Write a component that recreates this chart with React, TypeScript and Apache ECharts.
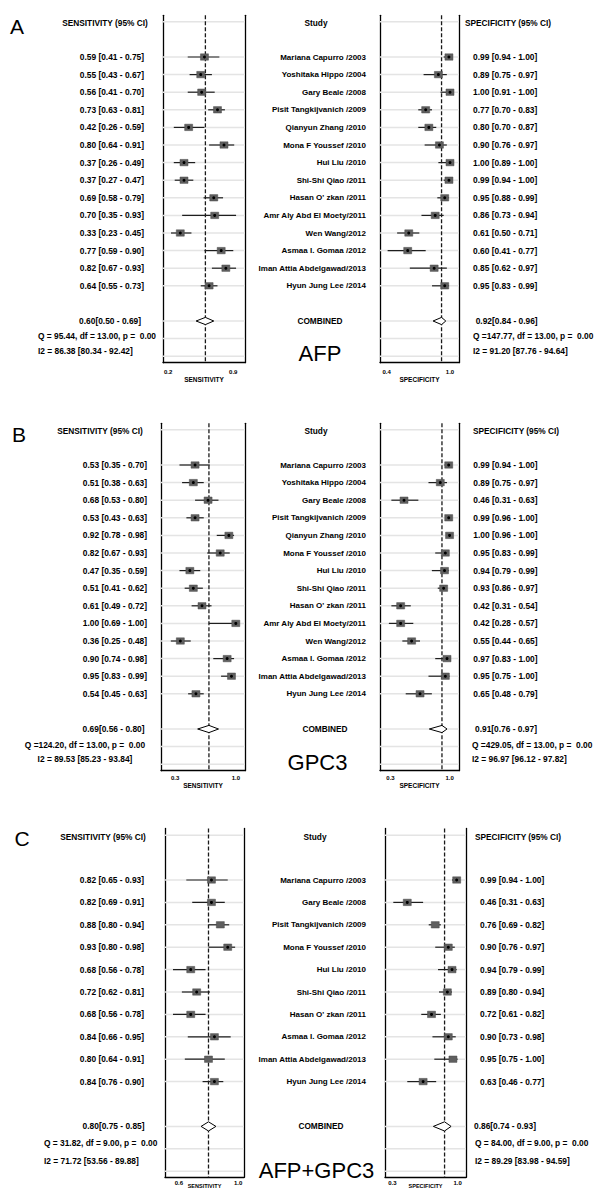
import React, { useEffect, useRef } from "react";
import * as echarts from "echarts";

// ---------------- DATA ----------------
const afpStudies = [
  "Mariana Capurro /2003", "Yoshitaka Hippo /2004", "Gary Beale /2008", "Pisit Tangkijvanich /2009",
  "Qianyun Zhang /2010", "Mona F Youssef /2010", "Hui Liu /2010", "Shi-Shi Qiao /2011",
  "Hasan O' zkan /2011", "Amr Aly Abd El Moety/2011", "Wen Wang/2012", "Asmaa I. Gomaa /2012",
  "Iman Attia Abdelgawad/2013", "Hyun Jung Lee /2014",
];
const afpSens = [0.59, 0.55, 0.56, 0.73, 0.42, 0.80, 0.37, 0.37, 0.69, 0.70, 0.33, 0.77, 0.82, 0.64];
const afpSensLow = [0.41, 0.43, 0.41, 0.63, 0.26, 0.64, 0.26, 0.27, 0.58, 0.35, 0.23, 0.59, 0.67, 0.55];
const afpSensHigh = [0.75, 0.67, 0.70, 0.81, 0.59, 0.91, 0.49, 0.47, 0.79, 0.93, 0.45, 0.90, 0.93, 0.73];
const afpSpec = [0.99, 0.89, 1.00, 0.77, 0.80, 0.90, 1.00, 0.99, 0.95, 0.86, 0.61, 0.60, 0.85, 0.95];
const afpSpecLow = [0.94, 0.75, 0.91, 0.70, 0.70, 0.76, 0.89, 0.94, 0.88, 0.73, 0.50, 0.41, 0.62, 0.83];
const afpSpecHigh = [1.00, 0.97, 1.00, 0.83, 0.87, 0.97, 1.00, 1.00, 0.99, 0.94, 0.71, 0.77, 0.97, 0.99];
const afpPooledSens = [0.60, 0.50, 0.69];
const afpPooledSpec = [0.92, 0.84, 0.96];
const afpSensStats = ["Q = 95.44, df = 13.00, p =  0.00", "I2 = 86.38 [80.34 - 92.42]"];
const afpSpecStats = ["Q =147.77, df = 13.00, p =  0.00", "I2 = 91.20 [87.76 - 94.64]"];
const afpSensTicks = [0.2, 0.9];
const afpSpecTicks = [0.4, 1.0];

const gpcStudies = afpStudies;
const gpcSens = [0.53, 0.51, 0.68, 0.53, 0.92, 0.82, 0.47, 0.51, 0.61, 1.00, 0.36, 0.90, 0.95, 0.54];
const gpcSensLow = [0.35, 0.38, 0.53, 0.43, 0.78, 0.67, 0.35, 0.41, 0.49, 0.69, 0.25, 0.74, 0.83, 0.45];
const gpcSensHigh = [0.70, 0.63, 0.80, 0.63, 0.98, 0.93, 0.59, 0.62, 0.72, 1.00, 0.48, 0.98, 0.99, 0.63];
const gpcSpec = [0.99, 0.89, 0.46, 0.99, 1.00, 0.95, 0.94, 0.93, 0.42, 0.42, 0.55, 0.97, 0.95, 0.65];
const gpcSpecLow = [0.94, 0.75, 0.31, 0.96, 0.96, 0.83, 0.79, 0.86, 0.31, 0.28, 0.44, 0.83, 0.75, 0.48];
const gpcSpecHigh = [1.00, 0.97, 0.63, 1.00, 1.00, 0.99, 0.99, 0.97, 0.54, 0.57, 0.65, 1.00, 1.00, 0.79];
const gpcPooledSens = [0.69, 0.56, 0.80];
const gpcPooledSpec = [0.91, 0.76, 0.97];
const gpcSensStats = ["Q =124.20, df = 13.00, p =  0.00", "I2 = 89.53 [85.23 - 93.84]"];
const gpcSpecStats = ["Q =429.05, df = 13.00, p =  0.00", "I2 = 96.97 [96.12 - 97.82]"];
const gpcSensTicks = [0.3, 1.0];
const gpcSpecTicks = [0.3, 1.0];

const bothStudies = [
  "Mariana Capurro /2003", "Gary Beale /2008", "Pisit Tangkijvanich /2009", "Mona F Youssef /2010",
  "Hui Liu /2010", "Shi-Shi Qiao /2011", "Hasan O' zkan /2011", "Asmaa I. Gomaa /2012",
  "Iman Attia Abdelgawad/2013", "Hyun Jung Lee /2014",
];
const bothSens = [0.82, 0.82, 0.88, 0.93, 0.68, 0.72, 0.68, 0.84, 0.80, 0.84];
const bothSensLow = [0.65, 0.69, 0.80, 0.80, 0.56, 0.62, 0.56, 0.66, 0.64, 0.76];
const bothSensHigh = [0.93, 0.91, 0.94, 0.98, 0.78, 0.81, 0.78, 0.95, 0.91, 0.90];
const bothSpec = [0.99, 0.46, 0.76, 0.90, 0.94, 0.89, 0.72, 0.90, 0.95, 0.63];
const bothSpecLow = [0.94, 0.31, 0.69, 0.76, 0.79, 0.80, 0.61, 0.73, 0.75, 0.46];
const bothSpecHigh = [1.00, 0.63, 0.82, 0.97, 0.99, 0.94, 0.82, 0.98, 1.00, 0.77];
const bothPooledSens = [0.80, 0.75, 0.85];
const bothPooledSpec = [0.86, 0.74, 0.93];
const bothSensStats = ["Q = 31.82, df = 9.00, p =  0.00", "I2 = 71.72 [53.56 - 89.88]"];
const bothSpecStats = ["Q = 84.00, df = 9.00, p =  0.00", "I2 = 89.29 [83.98 - 94.59]"];
const bothSensTicks = [0.6, 1.0];
const bothSpecTicks = [0.3, 1.0];

// ---------------- LAYOUT ----------------
const FONT = '"Liberation Sans", Arial, Helvetica, sans-serif';

const layoutA = {
  row0: 21.8, rowH: 17.6, yMin: -0.37, yMax: 19.37, combRow: 17,
  sensBox: { left: 163, width: 82, min: 0.144, max: 1.026 },
  specBox: { left: 380, width: 79, min: 0.338, max: 1.085 },
  letter: [10, 26], titleXY: [320, 353],
  sensHeaderX: 105, studyHeaderX: 316, specHeaderX: 465, headerDy: 1.5,
  sensValX: 144, nameX: 366, specValX: 473, pooledSensX: 141, combinedX: 320, pooledSpecX: 475.7,
  statsLeftX: 38, statsLeftAlign: "left", statsRightX: 473, statsDy: [14.5, 30],
  diamondH: 3.6, axisMargin: 6, nameGap: 12, nameSize: 6.5, nameMove: true,
};
const layoutB = {
  row0: 429.8, rowH: 17.6, yMin: -0.37, yMax: 19.37, combRow: 17,
  sensBox: { left: 161, width: 84, min: 0.137, max: 1.106 },
  specBox: { left: 380, width: 79, min: 0.175, max: 1.112 },
  letter: [12, 434], titleXY: [317.5, 762],
  sensHeaderX: 100, studyHeaderX: 316, specHeaderX: 473, headerDy: 1,
  sensValX: 147, nameX: 366, specValX: 473.3, pooledSensX: 144.5, combinedX: 325, pooledSpecX: 475,
  statsLeftX: 85, statsLeftAlign: "center", statsRightX: 472, statsDy: [15.5, 29.5],
  diamondH: 3.6, axisMargin: 4, nameGap: 10.5, nameSize: 6.5, nameMove: true,
};
const layoutC = {
  row0: 835.2, rowH: 22.4, yMin: -0.3, yMax: 15.27, combRow: 13,
  sensBox: { left: 165, width: 79, min: 0.506, max: 1.04 },
  specBox: { left: 385, width: 81, min: 0.221, max: 1.09 },
  letter: [14.5, 838], titleXY: [316.5, 1170],
  sensHeaderX: 103, studyHeaderX: 315, specHeaderX: 475, headerDy: 1.5,
  sensValX: 144, nameX: 366, specValX: 480, pooledSensX: 144.5, combinedX: 321, pooledSpecX: 474,
  statsLeftX: 44, statsLeftAlign: "left", statsRightX: 475, statsDy: [17, 35],
  diamondH: 4.6, axisMargin: 3, nameGap: 6, nameSize: 5.5, nameMove: false,
};

const panels = [
  {
    letter: "A", title: "AFP", studies: afpStudies,
    sens: [afpSens, afpSensLow, afpSensHigh], spec: [afpSpec, afpSpecLow, afpSpecHigh],
    pooledSens: afpPooledSens, pooledSpec: afpPooledSpec,
    sensStats: afpSensStats, specStats: afpSpecStats,
    sensTicks: afpSensTicks, specTicks: afpSpecTicks, L: layoutA,
  },
  {
    letter: "B", title: "GPC3", studies: gpcStudies,
    sens: [gpcSens, gpcSensLow, gpcSensHigh], spec: [gpcSpec, gpcSpecLow, gpcSpecHigh],
    pooledSens: gpcPooledSens, pooledSpec: gpcPooledSpec,
    sensStats: gpcSensStats, specStats: gpcSpecStats,
    sensTicks: gpcSensTicks, specTicks: gpcSpecTicks, L: layoutB,
  },
  {
    letter: "C", title: "AFP+GPC3", studies: bothStudies,
    sens: [bothSens, bothSensLow, bothSensHigh], spec: [bothSpec, bothSpecLow, bothSpecHigh],
    pooledSens: bothPooledSens, pooledSpec: bothPooledSpec,
    sensStats: bothSensStats, specStats: bothSpecStats,
    sensTicks: bothSensTicks, specTicks: bothSpecTicks, L: layoutC,
  },
];

const fmt = (e: number, l: number, h: number) => `${e.toFixed(2)} [${l.toFixed(2)} - ${h.toFixed(2)}]`;
const fmtPooled = (p: number[]) => `${p[0].toFixed(2)}[${p[1].toFixed(2)} - ${p[2].toFixed(2)}]`;

function buildOption() {
  const grid: any[] = [];
  const xAxis: any[] = [];
  const yAxis: any[] = [];
  const series: any[] = [];
  panels.forEach((p, pi) => {
    const L: any = p.L;
    const top = L.row0 + L.yMin * L.rowH;
    const height = (L.yMax - L.yMin) * L.rowH;
    const gridRows = [0, ...p.studies.map((_, i) => i + 2), L.combRow, L.combRow + 1, L.combRow + 2];
    const sides = [
      { box: L.sensBox, vals: p.sens, pooled: p.pooledSens, ticks: p.sensTicks, name: "SENSITIVITY" },
      { box: L.specBox, vals: p.spec, pooled: p.pooledSpec, ticks: p.specTicks, name: "SPECIFICITY" },
    ];
    sides.forEach((s, si) => {
      const gi = pi * 2 + si;
      grid.push({ left: s.box.left, top, width: s.box.width, height, containLabel: false, outerBoundsMode: "none" });
      xAxis.push({
        type: "value", gridIndex: gi, min: s.box.min, max: s.box.max,
        axisLine: { show: true, onZero: false, lineStyle: { color: "#000", width: 1.3 } },
        axisTick: { show: false }, splitLine: { show: false },
        axisLabel: {
          customValues: s.ticks, formatter: (v: number) => v.toFixed(1), fontSize: 6, fontWeight: "bold",
          color: "#000", margin: L.axisMargin, fontFamily: FONT, showMinLabel: true, showMaxLabel: true,
        },
        name: s.name, nameLocation: "middle", nameGap: L.nameGap, nameMoveOverlap: L.nameMove,
        nameTextStyle: { fontSize: L.nameSize, fontWeight: "bold", color: "#000", fontFamily: FONT },
      });
      const yBase = {
        type: "value", gridIndex: gi, min: L.yMin, max: L.yMax, inverse: true,
        axisLine: { show: true, onZero: false, lineStyle: { color: "#000", width: 1.3 } },
        axisTick: { show: false }, axisLabel: { show: false }, splitLine: { show: false },
      };
      yAxis.push({ ...yBase, position: "left" });
      yAxis.push({ ...yBase, position: "right" });
      const common = { xAxisIndex: gi, yAxisIndex: gi * 2, silent: true, animation: false, clip: false };
      // grid lines
      series.push({
        ...common, type: "custom", z: 1,
        data: gridRows.map((r) => [s.box.min, r]),
        renderItem: (params: any, api: any) => {
          const cs = params.coordSys;
          const y = api.coord([api.value(0), api.value(1)])[1];
          return {
            type: "line", shape: { x1: cs.x, y1: y, x2: cs.x + cs.width, y2: y },
            style: { stroke: "#e4e4e4", lineWidth: 1.5 },
          };
        },
      });
      // dashed pooled reference line
      series.push({
        ...common, type: "custom", z: 2,
        data: [[s.pooled[0], 0]],
        renderItem: (params: any, api: any) => {
          const cs = params.coordSys;
          const x = api.coord([api.value(0), api.value(1)])[0];
          return {
            type: "line", shape: { x1: x, y1: cs.y, x2: x, y2: cs.y + cs.height },
            style: { stroke: "#1a1a1a", lineWidth: 1.3, lineDash: [4, 2] },
          };
        },
      });
      // studies
      series.push({
        ...common, type: "custom", z: 3,
        data: s.vals[0].map((e: number, i: number) => [e, s.vals[1][i], s.vals[2][i], i + 2]),
        renderItem: (params: any, api: any) => {
          const r = api.value(3);
          const pe = api.coord([api.value(0), r]);
          const pl = api.coord([api.value(1), r]);
          const ph = api.coord([api.value(2), r]);
          return {
            type: "group",
            children: [
              { type: "line", shape: { x1: pl[0], y1: pl[1], x2: ph[0], y2: ph[1] }, style: { stroke: "#1e1e1e", lineWidth: 1.2 } },
              { type: "rect", shape: { x: pe[0] - 4, y: pe[1] - 3.2, width: 8, height: 6.4 }, style: { fill: "#5f5f5f", stroke: "#4a4a4a", lineWidth: 0.5 } },
              { type: "circle", shape: { cx: pe[0], cy: pe[1], r: 1.5 }, style: { fill: "#000" } },
            ],
          };
        },
      });
      // pooled diamond
      series.push({
        ...common, type: "custom", z: 3,
        data: [[s.pooled[0], s.pooled[1], s.pooled[2], L.combRow]],
        renderItem: (params: any, api: any) => {
          const r = api.value(3);
          const pe = api.coord([api.value(0), r]);
          const pl = api.coord([api.value(1), r]);
          const ph = api.coord([api.value(2), r]);
          const h = L.diamondH;
          return {
            type: "polygon",
            shape: { points: [[pl[0], pe[1]], [pe[0], pe[1] - h], [ph[0], pe[1]], [pe[0], pe[1] + h]] },
            style: { fill: "#fff", stroke: "#000", lineWidth: 1 },
          };
        },
      });
    });
  });
  return { animation: false, backgroundColor: "#fff", grid, xAxis, yAxis, series };
}

function txt(text: string, x: number, y: number, align: string, font: string) {
  return {
    type: "text", silent: true, z: 10,
    style: { text, x, y, font, fill: "#000", align, textAlign: align, verticalAlign: "middle", textVerticalAlign: "middle" },
  };
}

export default function App() {
  const ref = useRef<HTMLDivElement>(null);
  useEffect(() => {
    if (!ref.current) return;
    const chart = echarts.init(ref.current, null, { renderer: "svg" });
    chart.setOption(buildOption() as any);
    const valFont = `bold 8.4px ${FONT}`;
    const nameFont = `bold 8px ${FONT}`;
    const headFont = `bold 8.3px ${FONT}`;
    const bigFont = `21px ${FONT}`;
    const titleFont = `22px ${FONT}`;
    const elements: any[] = [];
    panels.forEach((p, pi) => {
      const L: any = p.L;
      const ry = (row: number) => chart.convertToPixel({ yAxisIndex: pi * 4 } as any, row) as unknown as number;
      elements.push(txt(p.letter, L.letter[0], L.letter[1], "left", bigFont));
      elements.push(txt(p.title, L.titleXY[0], L.titleXY[1], "center", titleFont));
      const hy = ry(0) + L.headerDy;
      elements.push(txt("SENSITIVITY (95% CI)", L.sensHeaderX, hy, "center", headFont));
      elements.push(txt("Study", L.studyHeaderX, hy, "center", headFont));
      elements.push(txt("SPECIFICITY (95% CI)", L.specHeaderX, hy, "left", headFont));
      p.studies.forEach((name, i) => {
        const y = ry(i + 2);
        elements.push(txt(fmt(p.sens[0][i], p.sens[1][i], p.sens[2][i]), L.sensValX, y, "right", valFont));
        elements.push(txt(name, L.nameX, y, "right", nameFont));
        elements.push(txt(fmt(p.spec[0][i], p.spec[1][i], p.spec[2][i]), L.specValX, y, "left", valFont));
      });
      const cy = ry(L.combRow);
      elements.push(txt(fmtPooled(p.pooledSens), L.pooledSensX, cy, "right", valFont));
      elements.push(txt("COMBINED", L.combinedX, cy, "center", headFont));
      elements.push(txt(fmtPooled(p.pooledSpec), L.pooledSpecX, cy, "left", valFont));
      p.sensStats.forEach((s, k) => {
        elements.push(txt(s, L.statsLeftX, cy + L.statsDy[k], L.statsLeftAlign, valFont));
      });
      p.specStats.forEach((s, k) => {
        elements.push(txt(s, L.statsRightX, cy + L.statsDy[k], "left", valFont));
      });
    });
    chart.setOption({ graphic: elements } as any);
    return () => chart.dispose();
  }, []);
  return (
    <div
      ref={ref}
      style={{ position: "absolute", left: 0, top: 0, width: 597, height: 1191, background: "#fff" }}
    />
  );
}
